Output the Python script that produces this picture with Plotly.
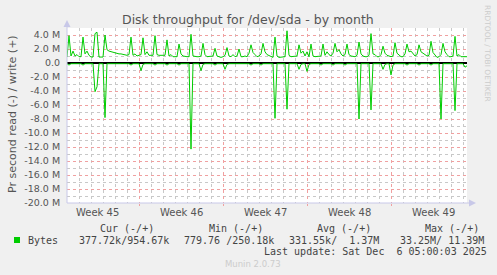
import plotly.graph_objects as go
import pandas as pd

# ---- data (values in millions of bytes per second), one sample per 4 hours ----
start_time = "2025-11-04 00:00"
step_hours = 4

write_M = [
    0.85, 3.9, 1.0, 1.7, 1.0, 1.2,
    0.9, 0.9, 3.7, 1.3, 1.7, 1.1,
    0.85, 0.85, 4.2, 4.4, 0.85, 0.85,
    0.85, 4.0, 1.9, 1.7, 1.6, 1.5,
    1.5, 1.4, 1.3, 1.3, 1.2, 1.2,
    1.1, 1.2, 3.7, 1.1, 1.3, 1.0,
    1.1, 1.2, 3.6, 1.2, 1.6, 1.1,
    1.1, 1.1, 3.9, 1.2, 1.1, 1.1,
    1.0, 1.1, 3.3, 1.0, 1.2, 0.9,
    0.9, 0.9, 2.7, 1.3, 1.0, 0.9,
    0.9, 0.9, 4.1, 1.0, 0.9, 0.9,
    0.9, 1.0, 2.8, 1.2, 0.9, 0.9,
    0.9, 1.0, 2.1, 1.0, 0.9, 0.8,
    0.9, 1.1, 2.2, 1.0, 0.9, 1.2,
    0.9, 1.0, 2.0, 0.9, 0.9, 1.0,
    0.9, 1.4, 2.6, 1.5, 1.2, 0.9,
    1.0, 1.3, 2.8, 1.6, 1.2, 1.1,
    0.9, 0.8, 3.7, 1.0, 0.8, 0.8,
    0.8, 0.9, 4.6, 1.1, 0.9, 0.9,
    0.9, 1.0, 2.6, 1.4, 1.7, 1.0,
    1.6, 0.9, 2.7, 1.0, 0.9, 0.9,
    0.9, 1.0, 2.7, 1.1, 1.6, 1.2,
    1.0, 1.4, 2.8, 1.6, 1.9, 1.3,
    1.0, 1.2, 2.7, 1.2, 1.0, 0.9,
    0.9, 1.1, 3.0, 1.3, 1.0, 0.9,
    0.9, 1.1, 4.2, 1.3, 1.2, 0.9,
    0.9, 1.2, 2.4, 1.4, 1.1, 1.0,
    0.9, 1.0, 2.9, 1.4, 1.1, 0.9,
    0.9, 1.3, 2.7, 1.6, 1.7, 1.3,
    1.0, 1.2, 2.6, 1.6, 1.4, 1.3,
    1.0, 1.1, 3.1, 1.5, 1.2, 0.8,
    0.9, 1.2, 2.8, 1.6, 1.2, 0.9,
    0.9, 1.0, 3.8, 1.0, 1.2, 0.9,
    0.9, 0.9, 0.9,
]

read_M = [
    -0.1, -0.3, -0.1, -0.1, -0.1, -0.1,
    -0.1, -0.1, -0.3, -0.1, -0.1, -0.1,
    -0.1, -0.1, -4.1, -3.4, -0.1, -0.1,
    -0.1, -7.8, -0.1, -0.1, -0.1, -0.1,
    -0.1, -0.1, -0.2, -0.1, -0.1, -0.1,
    -0.1, -0.1, -0.3, -0.1, -0.1, -0.1,
    -0.1, -1.1, -0.2, -0.1, -0.1, -0.1,
    -0.1, -0.1, -0.3, -0.1, -0.1, -0.1,
    -0.1, -0.1, -0.3, -0.1, -0.1, -0.1,
    -0.1, -0.1, -0.3, -0.1, -0.1, -0.1,
    -0.1, -0.1, -12.3, -0.1, -0.1, -0.1,
    -0.1, -1.1, -0.2, -0.1, -0.1, -0.1,
    -0.1, -0.1, -0.3, -0.1, -0.1, -0.1,
    -0.1, -0.9, -0.2, -0.1, -0.1, -0.1,
    -0.1, -0.1, -0.2, -0.1, -0.1, -0.1,
    -0.1, -0.1, -0.3, -0.1, -0.1, -0.1,
    -0.1, -0.3, -0.1, -0.1, -0.1, -0.1,
    -0.1, -0.1, -7.9, -0.1, -0.1, -0.1,
    -0.1, -0.1, -6.6, -0.1, -0.1, -0.1,
    -0.1, -0.1, -0.9, -0.2, -0.1, -0.1,
    -1.2, -0.2, -0.1, -0.1, -0.1, -0.1,
    -0.1, -0.3, -0.1, -0.1, -0.1, -0.1,
    -0.1, -0.3, -0.1, -0.1, -0.1, -0.1,
    -0.1, -0.3, -0.1, -0.1, -0.1, -0.1,
    -0.1, -0.1, -8.0, -0.1, -0.1, -0.1,
    -0.1, -0.1, -6.7, -0.1, -0.1, -0.1,
    -0.1, -0.1, -0.9, -0.2, -0.1, -0.1,
    -1.7, -0.3, -0.1, -0.1, -0.1, -0.1,
    -0.1, -0.1, -0.3, -0.1, -0.1, -0.1,
    -0.1, -0.1, -0.3, -0.1, -0.1, -0.1,
    -0.1, -0.1, -0.3, -0.1, -0.1, -0.1,
    -0.1, -8.0, -0.1, -0.1, -0.1, -0.1,
    -0.1, -0.1, -6.8, -0.1, -0.1, -0.1,
    -0.1, -0.6, -0.4,
]

y_tick_vals = [4, 2, 0, -2, -4, -6, -8, -10, -12, -14, -16, -18, -20]
y_tick_text = ["4.0 M", "2.0 M", "0.0", "-2.0 M", "-4.0 M", "-6.0 M", "-8.0 M",
               "-10.0 M", "-12.0 M", "-14.0 M", "-16.0 M", "-18.0 M", "-20.0 M"]
week_starts = ["2025-11-10", "2025-11-17", "2025-11-24", "2025-12-01"]
week_label_pos = ["2025-11-06 12:00", "2025-11-13 12:00", "2025-11-20 12:00",
                  "2025-11-27 12:00", "2025-12-04 12:00"]
week_labels = ["Week 45", "Week 46", "Week 47", "Week 48", "Week 49"]

legend_headers = ["Cur (-/+)", "Min (-/+)", "Avg (-/+)", "Max (-/+)"]
legend_values = ["377.72k/954.67k", "779.76 /250.18k", "331.55k/  1.37M", "33.25M/ 11.39M"]
series_name = "Bytes"
last_update = "Last update: Sat Dec  6 05:00:03 2025"

assert len(write_M) == len(read_M)
times = pd.date_range(start_time, periods=len(write_M), freq=f"{step_hours}h")

# ---- geometry helpers (pixel -> paper) ----
W, H = 497, 275
L, R, T, B = 67, 30, 28, 72
PW, PH = W - L - R, H - T - B


def px(x):
    return (x - L) / PW


def py(y):
    return (H - B - y) / PH


GREEN = "#00CC00"
fig = go.Figure()
fig.add_trace(go.Scatter(x=times, y=read_M, mode="lines",
                         line=dict(color=GREEN, width=1), showlegend=False, hoverinfo="skip"))
fig.add_trace(go.Scatter(x=times, y=write_M, mode="lines",
                         line=dict(color=GREEN, width=1), showlegend=False, hoverinfo="skip"))

day_grid = list(pd.date_range("2025-11-04", "2025-12-07", freq="D"))
fig.update_xaxes(
    type="date", range=["2025-11-04 00:00", "2025-12-07 08:00"],
    tickmode="array", tickvals=week_starts, showticklabels=False,
    showgrid=True, gridcolor="#F0A0A0", griddash="dot", gridwidth=1,
    ticks="outside", ticklen=2, tickcolor="#F0A0A0",
    minor=dict(tickmode="array", tickvals=day_grid, showgrid=True,
               gridcolor="#C8C8C8", griddash="dot", gridwidth=1),
    showline=False, zeroline=False, fixedrange=True,
)
fig.update_yaxes(
    range=[-20, 5], tickmode="array", tickvals=y_tick_vals, ticktext=y_tick_text,
    showgrid=True, gridcolor="#F0A0A0", griddash="dot", gridwidth=1,
    minor=dict(tickmode="array", tickvals=list(range(-19, 6, 2)), showgrid=True,
               gridcolor="#C8C8C8", griddash="dot", gridwidth=1),
    zeroline=True, zerolinecolor="#000000", zerolinewidth=1.5,
    tickfont=dict(family="DejaVu Sans", size=9.5, color="#555555"),
    ticks="outside", ticklen=4, tickcolor="rgba(0,0,0,0)",
    showline=False, fixedrange=True,
)

shapes = []
axis_col = "#C8C8E8"
shapes.append(dict(type="line", xref="paper", yref="paper", x0=px(67), x1=px(67),
                   y0=py(203), y1=py(24), line=dict(color=axis_col, width=1)))
shapes.append(dict(type="line", xref="paper", yref="paper", x0=px(67), x1=px(472),
                   y0=py(203), y1=py(203), line=dict(color=axis_col, width=1)))
shapes.append(dict(type="path", xref="paper", yref="paper",
                   path=f"M {px(63.5)} {py(27)} L {px(70.5)} {py(27)} L {px(67)} {py(20)} Z",
                   fillcolor=axis_col, line=dict(width=0)))
shapes.append(dict(type="path", xref="paper", yref="paper",
                   path=f"M {px(469)} {py(199.5)} L {px(469)} {py(206.5)} L {px(476)} {py(203)} Z",
                   fillcolor=axis_col, line=dict(width=0)))
# legend colour box
shapes.append(dict(type="rect", xref="paper", yref="paper", x0=px(14), x1=px(20),
                   y0=py(243), y1=py(237), fillcolor=GREEN, line=dict(width=0)))

ann = []


def text(x, y, s, size=10, color="#444444", family="DejaVu Sans Mono", xanchor="left", angle=0):
    ann.append(dict(xref="paper", yref="paper", x=px(x), y=py(y), text=s.replace(" ", "\u00a0"),
                    showarrow=False, xanchor=xanchor, yanchor="middle", textangle=angle,
                    font=dict(family=family, size=size, color=color)))


text(248, 19, "Disk throughput for /dev/sda - by month", size=12.5, color="#555555",
     family="DejaVu Sans", xanchor="center")
text(12, 114, "Pr second read (-) / write (+)", size=11, color="#555555",
     family="DejaVu Sans", xanchor="center", angle=-90)
text(488, 53, "RRDTOOL / TOBI OETIKER", size=7.5, color="#CCCCCC",
     family="DejaVu Sans", xanchor="center", angle=90)
for pos, lab in zip(week_label_pos, week_labels):
    ann.append(dict(xref="x", yref="paper", x=pos, y=py(212), text=lab, showarrow=False,
                    xanchor="center", yanchor="middle",
                    font=dict(family="DejaVu Sans", size=10, color="#555555")))
for x, s in zip([98, 207, 315, 423], legend_headers):
    text(x, 228, s)
text(26, 240, series_name)
for x, s in zip([77, 182, 287, 398], legend_values):
    text(x, 240, s)
text(262, 251, last_update)
text(223, 264, "Munin 2.0.73", size=8.5, color="#CCCCCC", family="DejaVu Sans")

fig.update_layout(
    width=W, height=H, margin=dict(l=L, r=R, t=T, b=B, pad=0),
    paper_bgcolor="#F0F0F0", plot_bgcolor="#FFFFFF",
    shapes=shapes, annotations=ann, showlegend=False,
)
fig.write_html("out.html")
